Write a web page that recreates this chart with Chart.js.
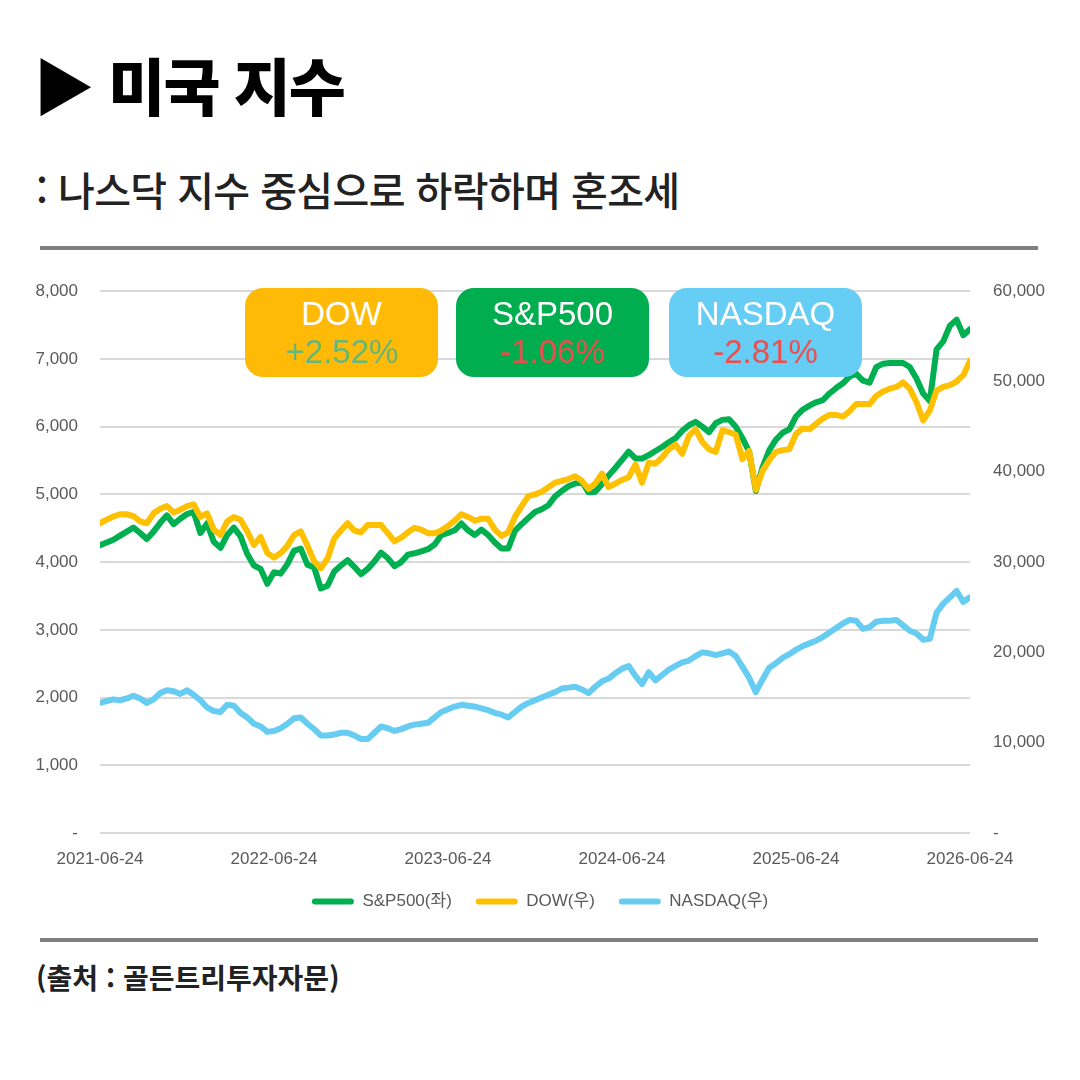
<!DOCTYPE html>
<html lang="ko">
<head>
<meta charset="UTF-8">
<title>미국 지수</title>
<script src="https://cdn.jsdelivr.net/npm/chart.js"></script>
<style>
  html, body { margin: 0; padding: 0; background: #fff; }
  body { width: 1080px; height: 1080px; position: relative; overflow: hidden; font-family: "Noto Sans CJK KR", sans-serif; }
  .title { position: absolute; left: 33px; top: 53px; font-size: 62px; font-weight: 900; line-height: 1; color: #000; letter-spacing: -2px; }
  .subtitle { position: absolute; left: 36px; top: 169px; font-size: 40px; font-weight: 500; line-height: 1; color: #222; letter-spacing: -0.6px; }
  .rule { position: absolute; left: 40px; width: 998px; height: 4px; background: #7f7f7f; }
  .source { position: absolute; left: 36px; top: 963px; font-size: 28px; font-weight: 700; line-height: 1; color: #222; letter-spacing: 0; }
  .chart-box { position: absolute; left: 20px; top: 258px; width: 1040px; height: 662px; }
  .badge { position: absolute; top: 288px; width: 193px; height: 89px; border-radius: 18px; text-align: center; font-family: "Liberation Sans", Arial, sans-serif; font-size: 33px; line-height: 38px; padding-top: 7px; box-sizing: border-box; }
  .badge .name { color: #fff; }
  .up { color: #6ab77b; }
  .down { color: #ef4d4d; }
</style>
</head>
<body>
<div class="title">▶ 미국 지수</div>
<div class="subtitle">: 나스닥 지수 중심으로 하락하며 혼조세</div>
<div class="rule" style="top:246px"></div>

<div class="chart-box"><canvas id="chart"></canvas></div>

<div class="badge" style="left:245px;background:#ffba08"><div class="name">DOW</div><div class="up">+2.52%</div></div>
<div class="badge" style="left:456px;background:#00ad4f"><div class="name">S&amp;P500</div><div class="down">-1.06%</div></div>
<div class="badge" style="left:669px;background:#66cdf4"><div class="name">NASDAQ</div><div class="down">-2.81%</div></div>

<div class="rule" style="top:938px"></div>
<div class="source">(출처 : 골든트리투자자문)</div>

<script>
// x tick labels (one per year, every 26 points)
const tickLabels = ['2021-06-24', '2022-06-24', '2023-06-24', '2024-06-24', '2025-06-24', '2026-06-24'];

// S&P500 (left axis)
const sp500 = [
  4250, 4290, 4330, 4390, 4450, 4510, 4430, 4340, 4450, 4580,
  4690, 4560, 4640, 4710, 4740, 4430, 4570, 4300, 4210, 4400,
  4510, 4380, 4120, 3950, 3900, 3680, 3850, 3830, 3970, 4170,
  4200, 3960, 3920, 3610, 3650, 3860, 3950, 4030, 3930, 3820,
  3900, 4010, 4140, 4060, 3940, 4000, 4110, 4130, 4160, 4190,
  4260, 4400, 4430, 4470, 4570, 4470, 4400, 4480, 4400, 4290,
  4200, 4200, 4460, 4560, 4650, 4740, 4780, 4840, 4970, 5050,
  5120, 5160, 5190, 5030, 5040, 5150, 5280, 5390, 5510, 5630,
  5530, 5530, 5580, 5640, 5700, 5770, 5830, 5940, 6020, 6070,
  6000, 5920, 6050, 6100, 6110, 6000, 5830, 5630, 5050, 5400,
  5650, 5810, 5910, 5960, 6150, 6250, 6310, 6360, 6390, 6490,
  6570, 6640, 6740, 6780, 6680, 6650, 6880, 6930, 6940, 6940,
  6940, 6880, 6710, 6490, 6380, 7140, 7260, 7490, 7580, 7350,
  7440
];

// DOW (right axis)
const dow = [
  34300, 34700, 35050, 35300, 35300, 35100, 34500, 34300, 35400, 35900,
  36200, 35500, 35800, 36200, 36400, 35000, 35400, 33600, 33000, 34500,
  35000, 34700, 33400, 31900, 32800, 31000, 30500, 31000, 31800, 33000,
  33400, 31800, 30100, 29300, 30400, 32600, 33500, 34300, 33500, 33300,
  34100, 34100, 34100, 33200, 32300, 32700, 33300, 33800, 33600, 33200,
  33200, 33500, 34000, 34600, 35300, 35000, 34600, 34800, 34800, 33600,
  32900, 33300, 35000, 36200, 37300, 37500, 37800, 38300, 38800, 39000,
  39200, 39500, 39000, 38100, 38700, 39800, 38300, 38700, 39100, 39400,
  40800, 38800, 41000, 40900, 41600, 42500, 43000, 42000, 44000, 44700,
  43300, 42500, 42200, 44600, 44400, 44100, 41400, 42300, 38000, 40100,
  41300, 42200, 42400, 42500, 44200, 44800, 44700, 45300, 45900, 46300,
  46300, 46100, 46700, 47500, 47500, 47500, 48400, 48900, 49200, 49400,
  49900, 49200, 47700, 45700, 46800, 49000, 49400, 49600, 50000, 50700,
  52300
];

// NASDAQ (right axis)
const nasdaq = [
  14400, 14600, 14800, 14700, 14900, 15200, 14900, 14400, 14800, 15500,
  15800, 15700, 15400, 15800, 15300, 14700, 13900, 13500, 13400, 14200,
  14100, 13300, 12800, 12100, 11800, 11200, 11300, 11600, 12100, 12700,
  12800, 12100, 11500, 10800, 10800, 10900, 11100, 11100, 10800, 10400,
  10400, 11100, 11800, 11600, 11300, 11500, 11800, 12000, 12100, 12200,
  12800, 13400, 13700, 14000, 14200, 14100, 14000, 13800, 13600, 13300,
  13100, 12800, 13400, 14000, 14400, 14700, 15000, 15300, 15600, 16000,
  16100, 16200, 15900, 15500, 16200, 16800, 17100, 17700, 18200, 18500,
  17400, 16500, 17800, 16900, 17500, 18100, 18500, 18900, 19100, 19600,
  20000, 19900, 19700, 19900, 20100, 19600, 18400, 17200, 15600, 17000,
  18300, 18800, 19400, 19800, 20300, 20700, 21000, 21300, 21700, 22200,
  22700, 23200, 23600, 23500, 22600, 22800, 23400, 23500, 23500, 23600,
  23000, 22400, 22100, 21400, 21500, 24400, 25400, 26100, 26800, 25600,
  26100
];

const toPoints = arr => arr.map((v, i) => ({ x: i, y: v }));
const tickFont = { family: '"Liberation Sans", Arial, sans-serif', size: 17 };
const tickColor = '#595959';

new Chart(document.getElementById('chart'), {
  type: 'line',
  data: {
    datasets: [
      { label: 'S&P500(좌)', data: toPoints(sp500), yAxisID: 'yL', borderColor: '#00b050', backgroundColor: '#00b050', order: 2 },
      { label: 'DOW(우)', data: toPoints(dow), yAxisID: 'yR', borderColor: '#ffc000', backgroundColor: '#ffc000', order: 1 },
      { label: 'NASDAQ(우)', data: toPoints(nasdaq), yAxisID: 'yR', borderColor: '#66ccf2', backgroundColor: '#66ccf2', order: 0 }
    ]
  },
  options: {
    responsive: true,
    maintainAspectRatio: false,
    animation: false,
    layout: { padding: { top: 8, left: 0, right: 0, bottom: 0 } },
    elements: {
      line: { borderWidth: 6, tension: 0, borderJoinStyle: 'round', borderCapStyle: 'round' },
      point: { radius: 0 }
    },
    scales: {
      x: {
        type: 'linear', min: 0, max: 130,
        grid: { display: false },
        border: { display: false },
        ticks: {
          stepSize: 26, padding: 8, color: tickColor, font: tickFont, maxRotation: 0,
          callback: v => tickLabels[v / 26]
        },
        afterFit: s => { s.height = 36; }
      },
      yL: {
        position: 'left', min: 0, max: 8000,
        grid: { color: '#d9d9d9', lineWidth: 2, drawTicks: false },
        border: { display: false },
        ticks: {
          stepSize: 1000, padding: 22, color: tickColor, font: tickFont,
          callback: v => v === 0 ? '-' : v.toLocaleString('en-US')
        },
        afterFit: s => { s.width = 80; }
      },
      yR: {
        position: 'right', min: 0, max: 60000,
        grid: { display: false, drawTicks: false },
        border: { display: false },
        ticks: {
          stepSize: 10000, padding: 23, color: tickColor, font: tickFont,
          callback: v => v === 0 ? '-' : v.toLocaleString('en-US')
        },
        afterFit: s => { s.width = 90; }
      }
    },
    plugins: {
      tooltip: { enabled: false },
      legend: {
        position: 'bottom',
        labels: {
          boxWidth: 42, boxHeight: 6, useBorderRadius: true, borderRadius: 3,
          color: tickColor, font: { family: '"Liberation Sans", "Noto Sans CJK KR", sans-serif', size: 17 },
          padding: 24,
          // legend marker: filled bar only, no thick outline
          generateLabels: chart => Chart.defaults.plugins.legend.labels.generateLabels(chart)
            .map(item => ({ ...item, lineWidth: 0 })),
          sort: (a, b) => a.datasetIndex - b.datasetIndex
        }
      }
    }
  }
});
</script>
</body>
</html>
